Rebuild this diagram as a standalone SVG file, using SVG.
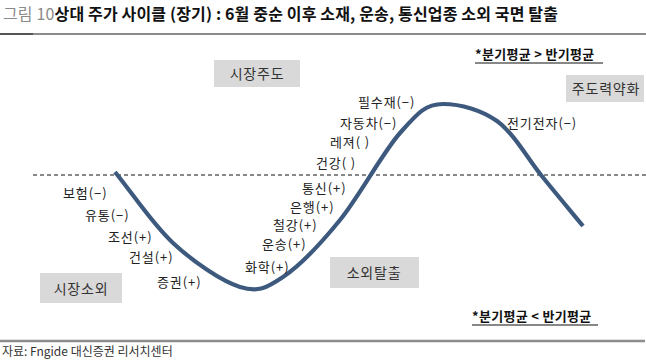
<svg xmlns="http://www.w3.org/2000/svg" width="646" height="364" viewBox="0 0 646 364">
<style>
text{font-family:"Noto Sans CJK KR","Noto Sans",sans-serif;}
.lbl{font-size:13px;fill:#222;letter-spacing:0.9px;}
.box{fill:#d9d9d9;}
.btx{font-size:14px;fill:#333;text-anchor:middle;letter-spacing:0.8px;}
.hdr{font-size:13px;fill:#111;font-weight:bold;letter-spacing:0.3px;}
.curve{fill:none;stroke:#3d5a7e;stroke-width:4.2;stroke-linecap:butt;}
</style>
<rect width="646" height="364" fill="#fff"/>
<g id="title">
<text x="3" y="20" style="font-size:16px;font-weight:bold;letter-spacing:0.15px"><tspan fill="#8a8a8a" font-weight="normal">그림 10</tspan><tspan fill="#111">상대 주가 사이클 (장기) : 6월 중순 이후 소재, 운송, 통신업종 소외 국면 탈출</tspan></text>
<line x1="0" y1="34" x2="646" y2="34" stroke="#8c8c8c" stroke-width="2"/>
<line x1="0" y1="34" x2="33" y2="34" stroke="#555" stroke-width="2"/>
</g>
<g id="connectors">
<line x1="33" y1="175" x2="646" y2="175" stroke="#111" stroke-width="1.2" stroke-dasharray="4,3"/>
<path class="curve" d="M115,172 C134.3,195.7 152.2,223.8 173,243 C193.8,262.2 221.7,281.3 240,287 C258.3,292.7 266.3,288.2 283,277 C299.7,265.8 320.5,244 340,220 C359.5,196 382.8,152.3 400,133 C417.2,113.7 425,104 443,104 C461,104 481.7,110.2 497,121 C514.3,133.8 527.2,157.8 541,175 C554.8,192.2 569,209 583,226"/>
</g>
<g id="hdr-top"><text class="hdr" x="475" y="59">*분기평균 &gt; 반기평균</text><line x1="475" y1="63" x2="603" y2="63" stroke="#111" stroke-width="1.2"/></g>
<g id="hdr-bottom"><text class="hdr" x="472" y="321">*분기평균 &lt; 반기평균</text><line x1="472" y1="325" x2="598" y2="325" stroke="#111" stroke-width="1.2"/></g>
<g id="box-lead"><rect class="box" x="214" y="60" width="86" height="27"/><text class="btx" x="257" y="79">시장주도</text></g>
<g id="box-weak"><rect class="box" x="566" y="75" width="78" height="27"/><text class="btx" x="606" y="94">주도력약화</text></g>
<g id="box-neglect"><rect class="box" x="40" y="273" width="82" height="30"/><text class="btx" x="81" y="294">시장소외</text></g>
<g id="box-escape"><rect class="box" x="330" y="257" width="89" height="31"/><text class="btx" x="374" y="278">소외탈출</text></g>
<g id="l-insurance"><text class="lbl" x="63" y="198">보험(−)</text></g>
<g id="l-retail"><text class="lbl" x="85" y="220">유통(−)</text></g>
<g id="l-ship"><text class="lbl" x="108" y="242">조선(+)</text></g>
<g id="l-constr"><text class="lbl" x="129" y="262">건설(+)</text></g>
<g id="l-sec"><text class="lbl" x="157" y="287">증권(+)</text></g>
<g id="l-chem"><text class="lbl" x="245" y="272">화학(+)</text></g>
<g id="l-trans"><text class="lbl" x="262" y="249">운송(+)</text></g>
<g id="l-steel"><text class="lbl" x="273" y="230">철강(+)</text></g>
<g id="l-bank"><text class="lbl" x="290" y="212">은행(+)</text></g>
<g id="l-telco"><text class="lbl" x="302" y="193">통신(+)</text></g>
<g id="l-health"><text class="lbl" x="316" y="168">건강( )</text></g>
<g id="l-leisure"><text class="lbl" x="330" y="147">레져( )</text></g>
<g id="l-auto"><text class="lbl" x="340" y="128">자동차(−)</text></g>
<g id="l-staples"><text class="lbl" x="358" y="107">필수재(−)</text></g>
<g id="l-elec"><text class="lbl" x="507" y="128">전기전자(−)</text></g>
<g id="footer">
<line x1="0" y1="341" x2="645" y2="341" stroke="#8c8c8c" stroke-width="2.5"/>
<text x="2" y="356" style="font-size:12px;fill:#333">자료: Fngide 대신증권 리서치센터</text>
</g>
</svg>
